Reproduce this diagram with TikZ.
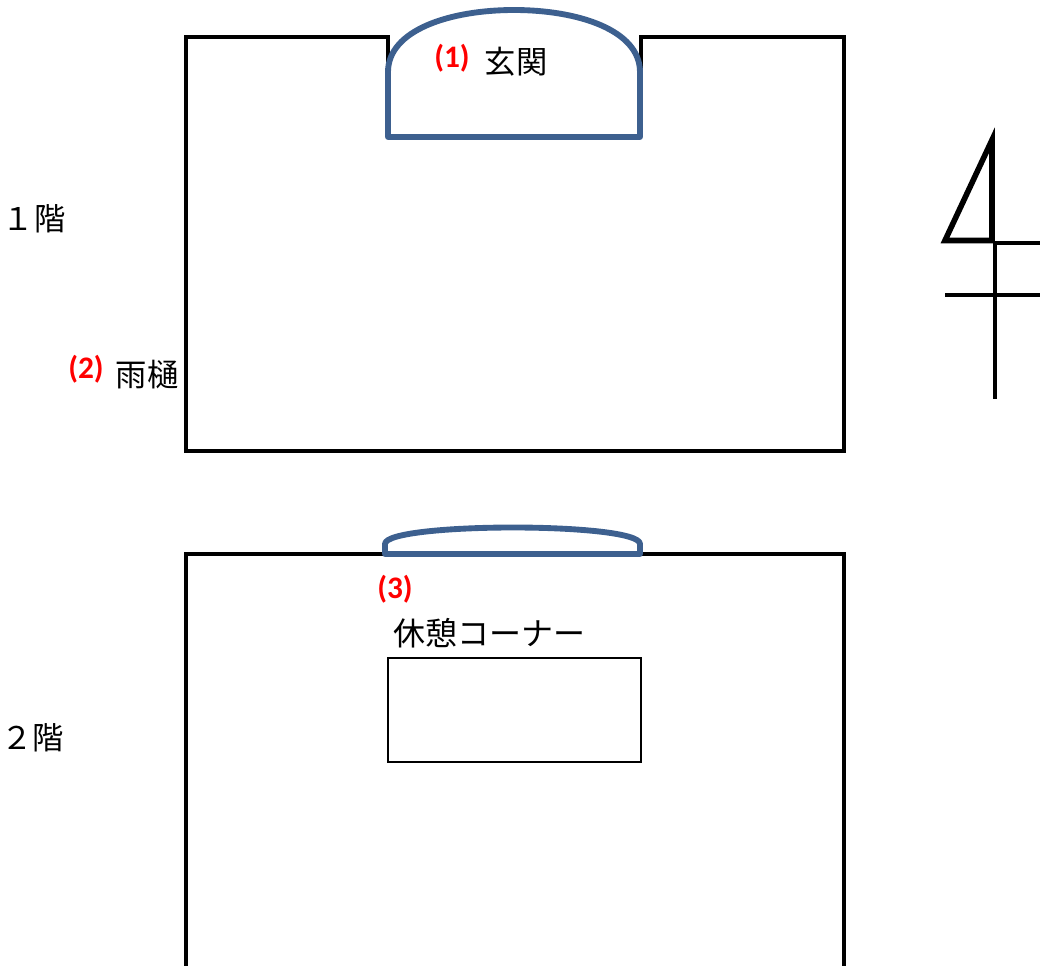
\documentclass[tikz,border=0pt]{standalone}
\usepackage{fontspec}
\setmainfont{Noto Sans CJK JP}
\newfontfamily\redfont{Carlito}
\definecolor{bluewall}{RGB}{61,96,143}
\definecolor{redlabel}{RGB}{255,0,0}
\tikzset{
  wall/.style={draw=black,line width=3.7pt,line join=miter},
  entrance/.style={draw=bluewall,line width=4.4pt,line join=round,fill=white},
  roomline/.style={draw=black,line width=1.9pt},
  northline/.style={draw=black,line width=3.3pt},
  northtri/.style={draw=black,line width=4.2pt,line join=miter,miter limit=10},
  jp/.style={inner sep=0pt,anchor=center,font=\fontsize{23.5pt}{26pt}\selectfont,text=black},
  redtag/.style={inner sep=0pt,anchor=center,font=\redfont\bfseries\fontsize{23.5pt}{26pt}\selectfont,text=redlabel}
}
\begin{document}
\begin{tikzpicture}[x=0.75pt,y=-0.75pt]
\useasboundingbox (0,0) rectangle (1040,966);
\clip (0,0) rectangle (1040,966);
% first floor
\draw[wall] (388,72) -- (388,37) -- (186,37) -- (186,451) -- (844,451) -- (844,37) -- (641,37) -- (641,72);
\draw[entrance] (388,137) -- (388,72) .. controls (388,30) and (450,10) .. (514,10) .. controls (578,10) and (640,30) .. (640,72) -- (640,137) -- cycle;
% second floor
\draw[wall] (186,970) -- (186,554) -- (844,554) -- (844,970);
\draw[entrance] (385,554) -- (385,544) .. controls (385,533) and (450,527.5) .. (513,527.5) .. controls (576,527.5) and (640,533) .. (640,544) -- (640,554) -- cycle;
\draw[roomline] (388,658) rectangle (641,762);
% north mark
\draw[northtri] (992,140) -- (992,240.5) -- (945,240.5) -- cycle;
\draw[northline] (995,241) -- (995,399);
\draw[northline] (997,243) -- (1040,243);
\draw[northline] (945,295) -- (1040,295);
% labels
\node[jp] (genkan) at (516,62) {玄関};
\node[jp] (amadoi) at (147,375) {雨樋};
\node[jp,font=\fontsize{24pt}{26pt}\selectfont] (kyukei) at (489,633) {休憩コーナー};
\node[jp] (f1) at (34,219) {１階};
\node[jp] (f2) at (33,738) {２階};
\node[redtag] (t1) at (452,58) {(1)};
\node[redtag] (t2) at (86,369) {(2)};
\node[redtag] (t3) at (395,589) {(3)};
\end{tikzpicture}
\end{document}
